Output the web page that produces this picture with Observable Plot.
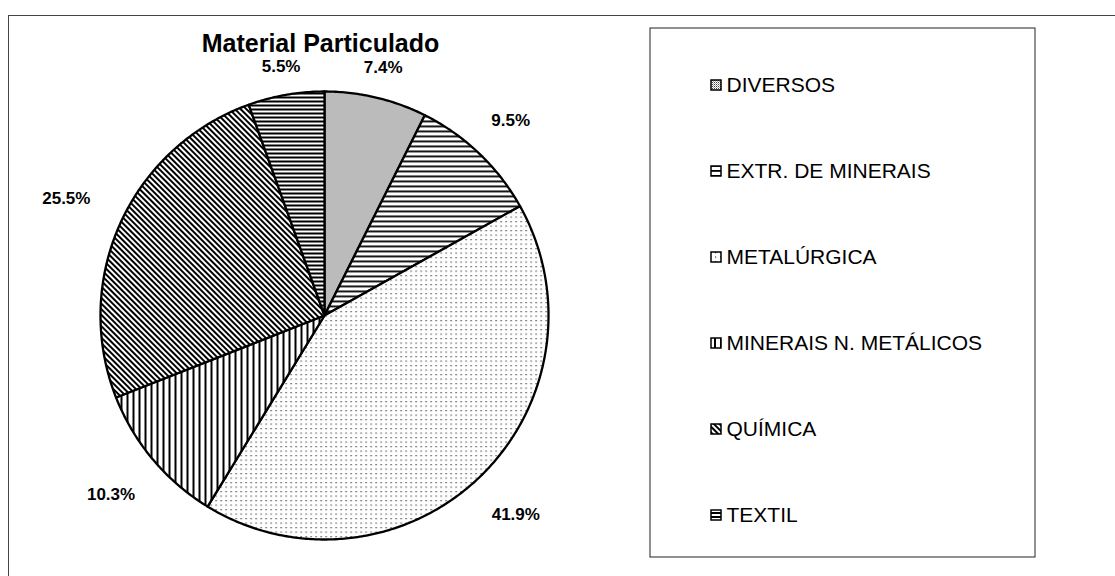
<!DOCTYPE html>
<html>
<head>
<meta charset="utf-8">
<script src="https://cdn.jsdelivr.net/npm/d3@7"></script>
<script src="https://cdn.jsdelivr.net/npm/@observablehq/plot@0.6"></script>
<style>
  html, body { margin: 0; padding: 0; background: #fff; }
</style>
</head>
<body>
<div id="chart"></div>
<script>
// ---- Data ----
const title = "Material Particulado";
const categories = ["DIVERSOS", "EXTR. DE MINERAIS", "METALÚRGICA", "MINERAIS N. METÁLICOS", "QUÍMICA", "TEXTIL"];
const shares = [7.4, 9.5, 41.9, 10.3, 25.5, 5.5];
const shareLabels = ["7.4%", "9.5%", "41.9%", "10.3%", "25.5%", "5.5%"];
const patternIds = ["p-div", "p-ext", "p-met", "p-min", "p-qui", "p-tex"];

// ---- Layout (pixels) ----
const W = 1115, H = 576;
const cx = 324, cy = 315, R = 224;
const legend = {x1: 650, x2: 1035, y1: 28, y2: 557, swX: 711, swSize: 10, textX: 726, firstY: 85, step: 86};

// ---- Geometry from data ----
const arcs = d3.pie().sort(null).value(d => d)(shares);
const slicePts = [];
arcs.forEach((a, i) => {
  const cat = categories[i];
  slicePts.push({cat, x: cx, y: cy});
  const n = Math.max(4, Math.ceil((a.endAngle - a.startAngle) / 0.01));
  for (let k = 0; k <= n; k++) {
    const t = a.startAngle + (a.endAngle - a.startAngle) * k / n;
    slicePts.push({cat, x: cx + R * Math.sin(t), y: cy - R * Math.cos(t)});
  }
});

const labelFont = 17;
const labelData = arcs.map((a, i) => {
  const m = (a.startAngle + a.endAngle) / 2;
  const s = Math.sin(m), c = Math.cos(m);
  const w = shareLabels[i].length * 9.2;
  const dist = R + 14 + w * Math.abs(s) + (labelFont / 2) * Math.abs(c);
  return {text: shareLabels[i], x: cx + dist * s, y: cy - dist * c};
});

const legendData = categories.map((c, i) => ({cat: c, y: legend.firstY + i * legend.step}));

const patternUrls = patternIds.map(id => `url(#${id})`);

const svg = Plot.plot({
  width: W,
  height: H,
  margin: 0,
  x: {domain: [0, W], range: [0, W], axis: null},
  y: {domain: [0, H], range: [0, H], axis: null},
  color: {type: "ordinal", domain: categories, range: patternUrls},
  style: {fontFamily: "'Liberation Sans', Arial, sans-serif", background: "#fff", color: "#000"},
  marks: [
    // outer frame (top and left edges)
    Plot.ruleY([15], {x1: () => 8, x2: () => W, stroke: "#444", strokeWidth: 1}),
    Plot.ruleX([8], {y1: () => 15, y2: () => H, stroke: "#444", strokeWidth: 1}),
    // pie slices
    Plot.line(slicePts, {x: "x", y: "y", z: "cat", fill: "cat", stroke: "#000", strokeWidth: 2.3, curve: "linear-closed", strokeLinejoin: "round"}),
    // title
    Plot.text([title], {x: () => cx - 4, y: () => 43, text: d => d, fontSize: 25, fontWeight: "bold", fill: "#000"}),
    // percentage labels
    Plot.text(labelData, {x: "x", y: "y", text: "text", fontSize: labelFont, fontWeight: "bold", fill: "#000"}),
    // legend box
    Plot.rect([legend], {x1: "x1", x2: "x2", y1: "y1", y2: "y2", fill: "none", stroke: "#222", strokeWidth: 1}),
    // legend swatches
    Plot.rect(legendData, {
      x1: () => legend.swX, x2: () => legend.swX + legend.swSize,
      y1: d => d.y - legend.swSize / 2, y2: d => d.y + legend.swSize / 2,
      fill: "cat", stroke: "#000", strokeWidth: 1.5
    }),
    // legend texts
    Plot.text(legendData, {x: () => legend.textX, y: "y", text: "cat", textAnchor: "start", fontSize: 21, fill: "#000"})
  ]
});

// ---- Hatch patterns ----
const defs = d3.select(svg).insert("defs", ":first-child");
function pat(id, w, h, draw, transform) {
  const p = defs.append("pattern").attr("id", id).attr("patternUnits", "userSpaceOnUse")
    .attr("width", w).attr("height", h);
  if (transform) p.attr("patternTransform", transform);
  p.append("rect").attr("width", w).attr("height", h).attr("fill", "#fff");
  draw(p);
}
// DIVERSOS: dense fine gray stipple
pat("p-div", 2, 2, p => {
  p.append("rect").attr("x", 0).attr("y", 0).attr("width", 1).attr("height", 1).attr("fill", "#444");
  p.append("rect").attr("x", 1).attr("y", 1).attr("width", 1).attr("height", 1).attr("fill", "#aaa");
});
// EXTR. DE MINERAIS: horizontal lines
pat("p-ext", 4, 5, p => {
  p.append("rect").attr("x", 0).attr("y", 0).attr("width", 4).attr("height", 1.8).attr("fill", "#000");
});
// METALÚRGICA: sparse dots
pat("p-met", 5, 4.5, p => {
  p.append("rect").attr("x", 0).attr("y", 0).attr("width", 1.2).attr("height", 1.2).attr("fill", "#333");
});
// MINERAIS N. METÁLICOS: vertical lines
pat("p-min", 6, 4, p => {
  p.append("rect").attr("x", 0).attr("y", 0).attr("width", 2).attr("height", 4).attr("fill", "#000");
});
// QUÍMICA: dense diagonal lines
pat("p-qui", 4, 4, p => {
  p.append("rect").attr("x", 0).attr("y", 0).attr("width", 2).attr("height", 4).attr("fill", "#000");
}, "rotate(-45)");
// TEXTIL: dense horizontal lines
pat("p-tex", 4, 4, p => {
  p.append("rect").attr("x", 0).attr("y", 0).attr("width", 4).attr("height", 2).attr("fill", "#000");
});

document.getElementById("chart").appendChild(svg);
</script>
</body>
</html>
